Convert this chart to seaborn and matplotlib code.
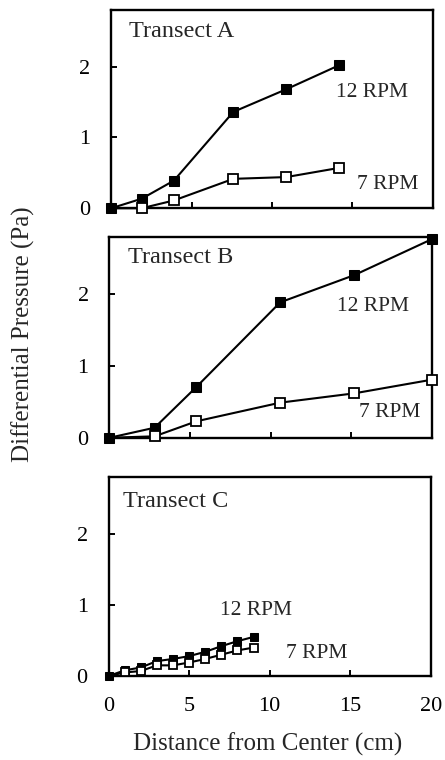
import matplotlib
matplotlib.use("Agg")
import matplotlib.pyplot as plt
import seaborn as sns
import pandas as pd

# ---- data ----
a_x = [0, 1.9, 3.9, 7.6, 10.9, 14.2]
a_12 = [0, 0.135, 0.39, 1.36, 1.68, 2.02]
a_7 = [0, 0, 0.11, 0.415, 0.44, 0.57]

b_x = [0, 2.8, 5.4, 10.6, 15.2, 20]
b_12 = [0, 0.14, 0.71, 1.89, 2.27, 2.77]
b_7 = [0, 0.02, 0.23, 0.49, 0.62, 0.81]

c_x = [0, 1, 2, 3, 4, 5, 6, 7, 8, 9]
c_12 = [0, 0.08, 0.12, 0.21, 0.24, 0.28, 0.34, 0.42, 0.49, 0.55]
c_7 = [0, 0.05, 0.07, 0.15, 0.15, 0.19, 0.24, 0.30, 0.36, 0.40]

panel_titles = ["Transect A", "Transect B", "Transect C"]
series_labels = ["12 RPM", "7 RPM"]
x_ticks = [0, 5, 10, 15, 20]
y_ticks = [0, 1, 2]
x_label = "Distance from Center (cm)"
y_label = "Differential Pressure (Pa)"

sns.set_theme(style="white")
plt.rcParams["font.family"] = ["Liberation Serif", "DejaVu Serif"]

fig = plt.figure(figsize=(4.45, 7.6), dpi=100)
left, width = 0.246, 0.722
axes_specs = [
    (left + 0.004, 0.726, width, 0.261),
    (left, 0.424, width + 0.002, 0.264),
    (left - 0.002, 0.1105, width + 0.002, 0.262),
]

panels = [
    (a_x, a_12, a_7, 7.5, (14.0, 1.63), (15.3, 0.33)),
    (b_x, b_12, b_7, 7.5, (14.1, 1.83), (15.5, 0.35)),
    (c_x, c_12, c_7, 6.3, (6.9, 0.92), (11.0, 0.32)),
]
title_pos = [(0.056, 0.89), (0.056, 0.90), (0.044, 0.875)]

for i, (spec, (xs, y12, y7, ms, p12, p7)) in enumerate(zip(axes_specs, panels)):
    ax = fig.add_axes(spec)
    df12 = pd.DataFrame({"x": xs, "y": y12})
    df7 = pd.DataFrame({"x": xs, "y": y7})
    sns.lineplot(data=df12, x="x", y="y", ax=ax, color="black", lw=1.5,
                 marker="s", markersize=ms, markerfacecolor="black",
                 markeredgecolor="black", estimator=None, sort=False,
                 clip_on=False, zorder=3)
    sns.lineplot(data=df7, x="x", y="y", ax=ax, color="black", lw=1.5,
                 marker="s", markersize=ms, markerfacecolor="white",
                 markeredgecolor="black", markeredgewidth=1.3,
                 estimator=None, sort=False, clip_on=False, zorder=4,
                 markevery=slice(1, None))
    ax.set_xlim(0, 20)
    ax.set_ylim(0, 2.8)
    ax.set_xticks(x_ticks)
    ax.set_yticks(y_ticks)
    ax.set_xlabel("")
    ax.set_ylabel("")
    for s in ax.spines.values():
        s.set_linewidth(1.7)
        s.set_color("black")
        s.set_visible(True)
    ax.tick_params(axis="both", direction="in", length=4, width=1.4,
                   colors="black", labelsize=16, top=False, right=False,
                   left=True, bottom=True, pad=15)
    if i < 2:
        ax.tick_params(axis="x", labelbottom=False)
    ax.text(*title_pos[i], panel_titles[i], transform=ax.transAxes,
            fontsize=17.5, va="center", ha="left")
    ax.text(p12[0], p12[1], series_labels[0], fontsize=15.5, va="center", ha="left")
    ax.text(p7[0], p7[1], series_labels[1], fontsize=15.5, va="center", ha="left")
    ax.grid(False)

fig.text(0.602, 0.021, x_label, fontsize=18, ha="center", va="center")
fig.text(0.052, 0.56, y_label, fontsize=18, ha="center", va="center", rotation=90)

fig.savefig("out.png", dpi=100, facecolor="white")
